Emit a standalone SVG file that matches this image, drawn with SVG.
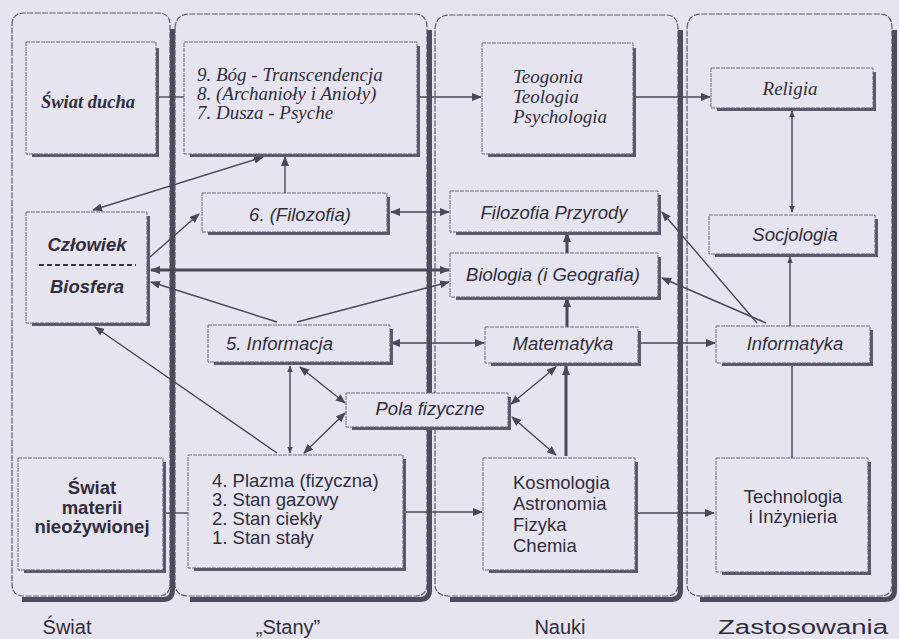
<svg xmlns="http://www.w3.org/2000/svg" width="899" height="639" viewBox="0 0 899 639">
<style>
  .bg{fill:#e6e4ef}
  .lane{fill:none;stroke:#5e5c6c;stroke-width:1.2;stroke-dasharray:6 1.5}
  .laneS{fill:none;stroke:#4e4c5a;stroke-width:5}
  .box{fill:#e6e4ef;stroke:#6e6c7c;stroke-width:1;stroke-dasharray:4 1}
  .bsh{fill:none;stroke:#5c5a6a;stroke-width:3}
  .c{fill:none;stroke:#4a4858;stroke-width:1.4}
  .ct{fill:none;stroke:#4a4858;stroke-width:3}
  text{fill:#302e3c}
  .ser{font-family:"Liberation Serif","Times New Roman",serif;font-style:italic;font-size:19px}
  .serb{font-family:"Liberation Serif","Times New Roman",serif;font-style:italic;font-weight:bold;font-size:18.5px}
  .si{font-family:"Liberation Sans",Arial,sans-serif;font-style:italic;font-size:18.5px}
  .sbi{font-family:"Liberation Sans",Arial,sans-serif;font-style:italic;font-weight:bold;font-size:18.5px}
  .s{font-family:"Liberation Sans",Arial,sans-serif;font-size:18.5px}
  .sb{font-family:"Liberation Sans",Arial,sans-serif;font-weight:bold;font-size:18.5px}
  .lbl{font-family:"Liberation Sans",Arial,sans-serif;font-size:20px;text-anchor:middle}
  .m{text-anchor:middle}
</style>
<defs>
  <marker id="ah" viewBox="0 0 10 8" refX="9" refY="4" markerWidth="10" markerHeight="8" markerUnits="userSpaceOnUse" orient="auto-start-reverse">
    <path d="M0,0 L10,4 L0,8 z" fill="#4a4858"/>
  </marker>
  <marker id="as" viewBox="0 0 10 8" refX="9" refY="4" markerWidth="7" markerHeight="6" markerUnits="userSpaceOnUse" orient="auto-start-reverse">
    <path d="M0,0 L10,4 L0,8 z" fill="#4a4858"/>
  </marker>
</defs>
<rect class="bg" x="0" y="0" width="899" height="639"/>

<g id="lanes">
  <g id="lane-swiat">
    <path class="lane" d="M12,25 Q12,13 24,13 H158 Q170,13 170,25 V584 Q170,596 158,596 H24 Q12,596 12,584 Z"/>
    <path class="laneS" d="M172.5,29 V590 Q172.5,599.5 163,599.5 H22"/>
  </g>
  <g id="lane-stany">
    <path class="lane" d="M175,28 Q176,14 189,14 H415 Q427,14 427,28 V584 Q427,596 415,596 H189 Q175,596 175,584 Z"/>
    <path class="laneS" d="M429.5,30 V590 Q429.5,599.5 420,599.5 H190"/>
  </g>
  <g id="lane-nauki">
    <path class="lane" d="M435,29 Q436,15 449,15 H666 Q678,15 678,29 V584 Q678,596 666,596 H449 Q435,596 435,584 Z"/>
    <path class="laneS" d="M680.5,30 V590 Q680.5,599.5 671,599.5 H450"/>
  </g>
  <g id="lane-zastosowania">
    <path class="lane" d="M687,28 Q688,14 701,14 H880 Q892,14 892,28 V584 Q892,596 880,596 H701 Q687,596 687,584 Z"/>
    <path class="laneS" d="M894.5,30 V590 Q894.5,599.5 885,599.5 H700"/>
  </g>
  <text class="lbl" x="67" y="634" font-size="20">Świat</text>
  <text class="lbl" x="288" y="634">„Stany”</text>
  <text class="lbl" x="560" y="634">Nauki</text>
  <text class="lbl" x="803" y="634" textLength="170" lengthAdjust="spacingAndGlyphs">Zastosowania</text>
</g>

<g id="connectors">
  <line class="c" x1="156" y1="97" x2="184" y2="97"/>
  <line class="c" x1="417" y1="97" x2="481" y2="97" marker-end="url(#ah)"/>
  <line class="c" x1="633" y1="97" x2="710" y2="97" marker-end="url(#ah)"/>
  <line class="c" x1="792" y1="111" x2="792" y2="212" marker-start="url(#as)" marker-end="url(#as)"/>
  <line class="c" x1="263" y1="157" x2="93" y2="210" marker-start="url(#ah)" marker-end="url(#ah)"/>
  <line class="c" x1="285" y1="193" x2="285" y2="157" marker-end="url(#ah)"/>
  <line class="c" x1="150" y1="257" x2="199" y2="214" marker-end="url(#ah)"/>
  <line class="c" x1="391" y1="212" x2="449" y2="212" marker-start="url(#ah)" marker-end="url(#ah)"/>
  <line class="ct" x1="151" y1="270" x2="449" y2="270" marker-start="url(#ah)" marker-end="url(#ah)"/>
  <line class="c" x1="277" y1="322" x2="151" y2="282" marker-end="url(#ah)"/>
  <line class="c" x1="297" y1="322" x2="449" y2="282" marker-end="url(#ah)"/>
  <line class="c" x1="757" y1="323" x2="662" y2="212" marker-end="url(#ah)"/>
  <line class="c" x1="766" y1="323" x2="662" y2="278" marker-end="url(#ah)"/>
  <line class="c" x1="790" y1="326" x2="790" y2="257" marker-end="url(#as)"/>
  <line class="ct" x1="567" y1="253" x2="567" y2="233" marker-end="url(#ah)"/>
  <line class="ct" x1="567" y1="327" x2="567" y2="298" marker-end="url(#ah)"/>
  <line class="c" x1="391" y1="343" x2="484" y2="343" marker-start="url(#ah)" marker-end="url(#ah)"/>
  <line class="c" x1="638" y1="343" x2="715" y2="343" marker-end="url(#ah)"/>
  <line class="c" x1="556" y1="367" x2="511" y2="404" marker-start="url(#ah)" marker-end="url(#ah)"/>
  <line class="c" x1="512" y1="417" x2="556" y2="455" marker-start="url(#ah)" marker-end="url(#ah)"/>
  <line class="ct" x1="566" y1="456" x2="566" y2="366" marker-end="url(#ah)"/>
  <line class="c" x1="290" y1="366" x2="290" y2="453" marker-start="url(#as)" marker-end="url(#as)"/>
  <line class="c" x1="300" y1="367" x2="345" y2="403" marker-start="url(#ah)" marker-end="url(#ah)"/>
  <line class="c" x1="304" y1="453" x2="345" y2="413" marker-start="url(#ah)" marker-end="url(#ah)"/>
  <line class="c" x1="277" y1="453" x2="95" y2="327" marker-end="url(#ah)"/>
  <line class="c" x1="163" y1="513" x2="188" y2="513"/>
  <line class="c" x1="403" y1="512" x2="482" y2="512" marker-end="url(#ah)"/>
  <line class="c" x1="635" y1="513" x2="714" y2="513" marker-end="url(#ah)"/>
  <line class="c" x1="792" y1="365" x2="792" y2="458"/>
</g>

<g id="swiat-ducha">
  <rect class="box" x="26" y="42" width="130" height="112"/>
  <path class="bsh" d="M157.5,48 V155.5 H32"/>
  <text class="serb m" x="88" y="108">Świat ducha</text>
</g>
<g id="stany-duchowe">
  <rect class="box" x="184" y="42" width="233" height="112"/>
  <path class="bsh" d="M418.5,46 V155.5 H190"/>
  <text class="ser" x="197" y="81">9. Bóg - Transcendencja</text>
  <text class="ser" x="197" y="100">8. (Archanioły i Anioły)</text>
  <text class="ser" x="197" y="119">7. Dusza - Psyche</text>
</g>
<g id="teogonia">
  <rect class="box" x="482" y="43" width="151" height="111"/>
  <path class="bsh" d="M634.5,48 V155.5 H488"/>
  <text class="ser" x="513" y="83">Teogonia</text>
  <text class="ser" x="513" y="103">Teologia</text>
  <text class="ser" x="513" y="123">Psychologia</text>
</g>
<g id="religia">
  <rect class="box" x="711" y="68" width="162" height="40"/>
  <path class="bsh" d="M874.5,72 V109.5 H717"/>
  <text class="ser m" x="790" y="95">Religia</text>
</g>
<g id="filozofia">
  <rect class="box" x="202" y="193" width="185" height="39"/>
  <path class="bsh" d="M388.5,197 V233.5 H208"/>
  <text class="si m" x="300" y="221">6. (Filozofia)</text>
</g>
<g id="filozofia-przyrody">
  <rect class="box" x="450" y="191" width="208" height="41"/>
  <path class="bsh" d="M659.5,195 V233.5 H456"/>
  <text class="si m" x="554" y="219">Filozofia Przyrody</text>
</g>
<g id="czlowiek-biosfera">
  <rect class="box" x="26" y="212" width="121" height="111"/>
  <path class="bsh" d="M148.5,216 V324.5 H32"/>
  <text class="sbi m" x="87" y="251">Człowiek</text>
  <line x1="39" y1="265" x2="136" y2="265" stroke="#34323f" stroke-width="2" stroke-dasharray="5 3"/>
  <text class="sbi m" x="87" y="293">Biosfera</text>
</g>
<g id="biologia">
  <rect class="box" x="450" y="253" width="208" height="44"/>
  <path class="bsh" d="M659.5,257 V298.5 H456"/>
  <text class="si m" x="553" y="281">Biologia (i Geografia)</text>
</g>
<g id="socjologia">
  <rect class="box" x="709" y="215" width="166" height="39"/>
  <path class="bsh" d="M876.5,219 V255.5 H715"/>
  <text class="si m" x="795" y="241">Socjologia</text>
</g>
<g id="informacja">
  <rect class="box" x="208" y="325" width="182" height="37"/>
  <path class="bsh" d="M391.5,329 V363.5 H214"/>
  <text class="si" x="226" y="350">5. Informacja</text>
</g>
<g id="matematyka">
  <rect class="box" x="485" y="327" width="153" height="36"/>
  <path class="bsh" d="M639.5,331 V364.5 H491"/>
  <text class="si m" x="563" y="350">Matematyka</text>
</g>
<g id="informatyka">
  <rect class="box" x="716" y="326" width="154" height="37"/>
  <path class="bsh" d="M871.5,330 V364.5 H722"/>
  <text class="si m" x="795" y="350">Informatyka</text>
</g>
<g id="pola-fizyczne">
  <rect class="box" x="346" y="393" width="162" height="34"/>
  <path class="bsh" d="M509.5,397 V428.5 H352"/>
  <text class="si m" x="430" y="415">Pola fizyczne</text>
</g>
<g id="swiat-materii">
  <rect class="box" x="18" y="458" width="145" height="112"/>
  <path class="bsh" d="M164.5,462 V571.5 H24"/>
  <text class="sb m" x="92" y="494">Świat</text>
  <text class="sb m" x="92" y="514">materii</text>
  <text class="sb m" x="92" y="533">nieożywionej</text>
</g>
<g id="stany-fizyczne">
  <rect class="box" x="188" y="455" width="215" height="113"/>
  <path class="bsh" d="M404.5,459 V569.5 H194"/>
  <text class="s" x="212" y="487">4. Plazma (fizyczna)</text>
  <text class="s" x="212" y="506">3. Stan gazowy</text>
  <text class="s" x="212" y="525">2. Stan ciekły</text>
  <text class="s" x="212" y="544">1. Stan stały</text>
</g>
<g id="kosmologia">
  <rect class="box" x="483" y="458" width="152" height="112"/>
  <path class="bsh" d="M636.5,462 V571.5 H489"/>
  <text class="s" x="513" y="489">Kosmologia</text>
  <text class="s" x="513" y="510">Astronomia</text>
  <text class="s" x="513" y="531">Fizyka</text>
  <text class="s" x="513" y="552">Chemia</text>
</g>
<g id="technologia">
  <rect class="box" x="716" y="458" width="152" height="114"/>
  <path class="bsh" d="M869.5,462 V573.5 H722"/>
  <text class="s m" x="793" y="503">Technologia</text>
  <text class="s m" x="793" y="523">i Inżynieria</text>
</g>
</svg>
